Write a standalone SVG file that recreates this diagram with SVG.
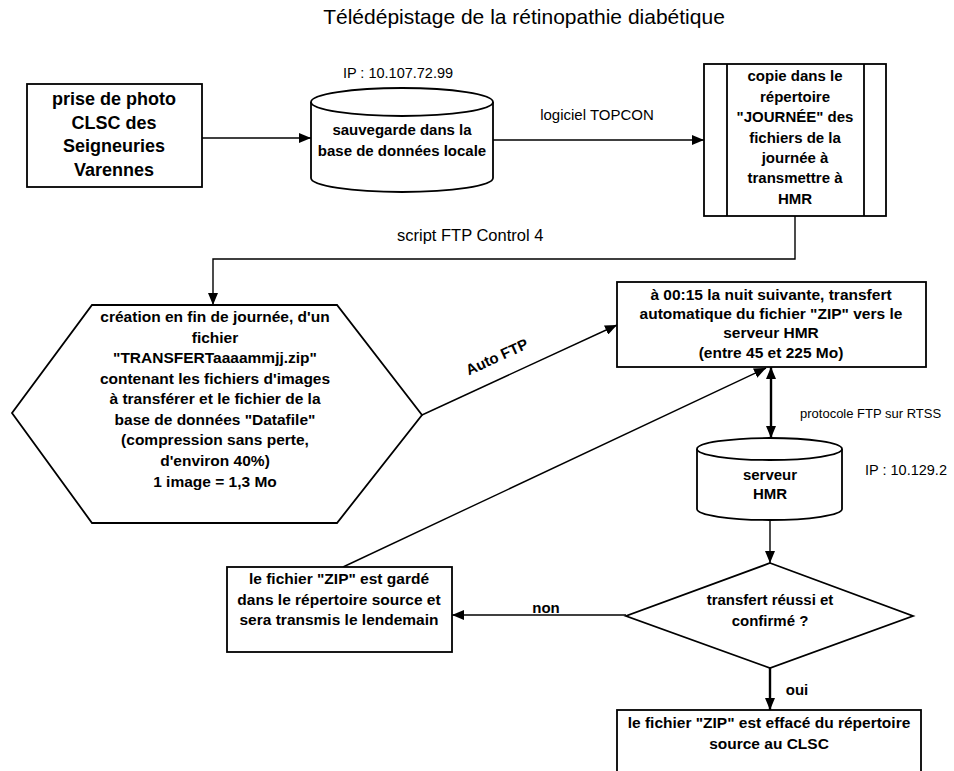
<svg xmlns="http://www.w3.org/2000/svg" width="954" height="771" viewBox="0 0 954 771">
<defs>
<style>
.shape{fill:#fff;stroke:#000;stroke-width:1.8}
.ln{fill:none;stroke:#000;stroke-width:1.4}
.thick{fill:none;stroke:#000;stroke-width:2.4}
.b{font-family:"Liberation Sans",Arial,sans-serif;font-weight:bold;font-size:15px;fill:#000;text-anchor:middle}
.r{font-family:"Liberation Sans",Arial,sans-serif;font-size:14px;fill:#000}
</style>
<marker id="ah" markerUnits="userSpaceOnUse" markerWidth="12" markerHeight="10" refX="12" refY="5" orient="auto">
<path d="M0,0 L12,5 L0,10 Z" fill="#000"/>
</marker>
<marker id="ahs" markerUnits="userSpaceOnUse" markerWidth="12" markerHeight="10" refX="0" refY="5" orient="auto">
<path d="M12,0 L0,5 L12,10 Z" fill="#000"/>
</marker>
</defs>
<rect width="954" height="771" fill="#fff"/>
<text x="524" y="24" class="r" style="font-size:21px" text-anchor="middle">Télédépistage de la rétinopathie diabétique</text>

<g id="connectors">
<line class="ln" x1="202" y1="138" x2="311" y2="138" marker-end="url(#ah)"/>
<line class="ln" x1="493" y1="140" x2="704" y2="140" marker-end="url(#ah)"/>
<path class="ln" d="M795,216 V259 H213 V305" marker-end="url(#ah)"/>
<line class="ln" x1="422" y1="415" x2="617" y2="325" marker-end="url(#ah)"/>
<line class="ln" x1="343" y1="567" x2="766" y2="368" marker-end="url(#ah)"/>
<line class="thick" x1="771" y1="367" x2="771" y2="438" marker-start="url(#ahs)" marker-end="url(#ah)"/>
<line class="ln" x1="770" y1="520" x2="770" y2="563" marker-end="url(#ah)"/>
<line class="ln" x1="626" y1="615" x2="452" y2="615" marker-end="url(#ah)"/>
<line class="thick" x1="770" y1="668" x2="770" y2="710" marker-end="url(#ah)"/>
<text x="398" y="78" class="r" style="font-size:14.5px" text-anchor="middle">IP : 10.107.72.99</text>
<text x="597" y="120" class="r" style="font-size:15px" text-anchor="middle">logiciel TOPCON</text>
<text x="397" y="241" class="r" style="font-size:16.5px">script FTP Control 4</text>
<text class="b" transform="translate(497,357) rotate(-24.6)" y="5">Auto FTP</text>
<text x="800" y="418" class="r" style="font-size:13px">protocole FTP sur RTSS</text>
<text x="865" y="475" class="r" style="font-size:14.5px">IP : 10.129.2</text>
<text x="546" y="613" class="b">non</text>
<text x="797" y="695" class="b">oui</text>
</g>

<g id="photo">
<rect class="shape" x="27" y="84" width="175" height="103"/>
<text class="b" style="font-size:18px" x="114"><tspan x="114" y="105">prise de photo</tspan><tspan x="114" y="129">CLSC des</tspan><tspan x="114" y="152">Seigneuries</tspan><tspan x="114" y="176">Varennes</tspan></text>
</g>

<g id="sauvegarde">
<path class="shape" d="M311,102 A91,14 0 0,1 493,102 V178 A91,14 0 0,1 311,178 Z"/>
<path class="ln" style="stroke-width:1.8" d="M311,102 A91,14 0 0,0 493,102"/>
<text class="b"><tspan x="402" y="135">sauvegarde dans la</tspan><tspan x="402" y="156">base de données locale</tspan></text>
</g>

<g id="copie">
<rect class="shape" x="704" y="64" width="182" height="152"/>
<line class="ln" style="stroke-width:1.8" x1="727" y1="64" x2="727" y2="216"/>
<line class="ln" style="stroke-width:1.8" x1="864" y1="64" x2="864" y2="216"/>
<text class="b"><tspan x="795" y="81">copie dans le</tspan><tspan x="795" y="102">répertoire</tspan><tspan x="795" y="122">"JOURNÉE" des</tspan><tspan x="795" y="143">fichiers de la</tspan><tspan x="795" y="163">journée à</tspan><tspan x="795" y="183">transmettre à</tspan><tspan x="795" y="204">HMR</tspan></text>
</g>

<g id="creation">
<polygon class="shape" points="92,305 337,305 422,415 337,523 92,523 12,413"/>
<text class="b" style="font-size:15.5px"><tspan x="215" y="322">création en fin de journée, d'un</tspan><tspan x="215" y="343">fichier</tspan><tspan x="215" y="363">"TRANSFERTaaaammjj.zip"</tspan><tspan x="215" y="384">contenant les fichiers d'images</tspan><tspan x="215" y="404">à transférer et le fichier de la</tspan><tspan x="215" y="425">base de données "Datafile"</tspan><tspan x="215" y="445">(compression sans perte,</tspan><tspan x="215" y="466">d'environ 40%)</tspan><tspan x="215" y="487">1 image = 1,3 Mo</tspan></text>
</g>

<g id="transfert">
<rect class="shape" x="617" y="282" width="309" height="85"/>
<text class="b" style="font-size:15.5px"><tspan x="771" y="300">à 00:15 la nuit suivante, transfert</tspan><tspan x="771" y="319">automatique du fichier "ZIP" vers le</tspan><tspan x="771" y="338">serveur HMR</tspan><tspan x="771" y="358">(entre 45 et 225 Mo)</tspan></text>
</g>

<g id="serveur">
<path class="shape" d="M697,449 A72.5,11 0 0,1 842,449 V509 A72.5,11 0 0,1 697,509 Z"/>
<path class="ln" style="stroke-width:1.8" d="M697,449 A72.5,11 0 0,0 842,449"/>
<text class="b"><tspan x="770" y="480">serveur</tspan><tspan x="770" y="499">HMR</tspan></text>
</g>

<g id="decision">
<polygon class="shape" points="770,563 913,616 770,668 626,616"/>
<text class="b"><tspan x="770" y="605">transfert réussi et</tspan><tspan x="770" y="626">confirmé ?</tspan></text>
</g>

<g id="garde">
<rect class="shape" x="227" y="567" width="225" height="85"/>
<text class="b" style="font-size:15.5px"><tspan x="339" y="584">le fichier "ZIP" est gardé</tspan><tspan x="339" y="605">dans le répertoire source et</tspan><tspan x="339" y="625">sera transmis le lendemain</tspan></text>
</g>

<g id="efface">
<rect class="shape" x="617" y="710" width="304" height="80"/>
<text class="b" style="font-size:15.5px"><tspan x="769" y="728">le fichier "ZIP" est effacé du répertoire</tspan><tspan x="769" y="749">source au CLSC</tspan></text>
</g>
</svg>
